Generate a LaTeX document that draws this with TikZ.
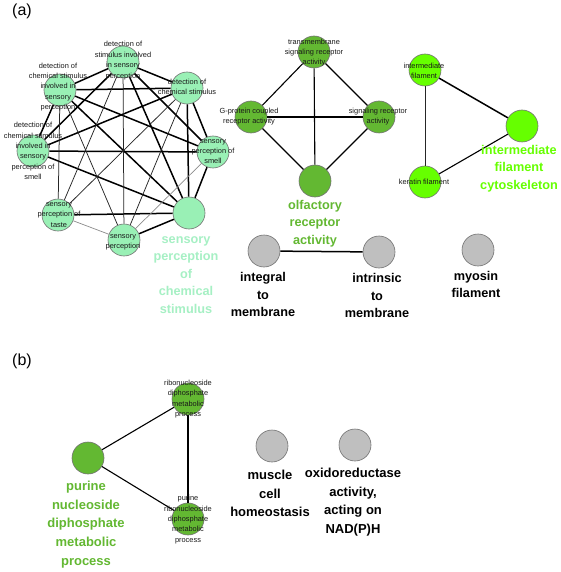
\documentclass[tikz,border=0pt]{standalone}
\usepackage{fontspec}
\setmainfont{Liberation Sans}
\begin{document}
\begin{tikzpicture}[x=1pt,y=-1pt,
  gnode/.style={circle,draw=black!55,line width=0.6pt,minimum size=32pt,inner sep=0pt},
  mintn/.style={gnode,fill=mintfill},
  olfn/.style={gnode,fill=olfgreen},
  brightn/.style={gnode,fill=brightgreen},
  grayn/.style={gnode,fill=grayfill},
  small/.style={align=center,inner sep=0pt,text=black!90,font=\fontsize{7.4}{10.4}\selectfont},
  big/.style={align=center,inner sep=0pt,font=\fontsize{12.7}{17.6}\selectfont\bfseries},
  bigb/.style={align=center,inner sep=0pt,font=\fontsize{13}{18.7}\selectfont\bfseries},
  thick edge/.style={line width=1.5pt,black},
  mid edge/.style={line width=1.1pt,black},
  thin edge/.style={line width=0.75pt,black!85},
  gray edge/.style={line width=0.7pt,black!45},
]
\definecolor{mintfill}{HTML}{99F0B5}
\definecolor{minttext}{HTML}{A6F0C4}
\definecolor{olfgreen}{HTML}{63B832}
\definecolor{brightgreen}{HTML}{66FF00}
\definecolor{grayfill}{HTML}{BFBFBF}
\useasboundingbox[fill=white] (0,0) rectangle (560,572);

% panel labels
\node[font=\fontsize{16}{18}\selectfont,inner sep=0pt] (pa) at (22,11) {(a)};
\node[font=\fontsize{16}{18}\selectfont,inner sep=0pt] (pb) at (22,361) {(b)};

% ---------- heptagon group ----------
\node[mintn] (n1) at (123,62) {};
\node[mintn] (n2) at (60,90) {};
\node[mintn] (n3) at (187,88) {};
\node[mintn] (n4) at (33,151) {};
\node[mintn] (n5) at (213,152) {};
\node[mintn] (n6) at (58,215) {};
\node[mintn] (n7) at (124,240) {};
\node[mintn] (n8) at (189,213) {};

\foreach \a/\b in {n1/n2,n1/n3,n2/n3,n1/n4,n2/n4,n3/n4,n4/n5,n1/n5,n2/n5,n3/n5,
  n1/n8,n2/n8,n3/n8,n4/n8,n5/n8,n6/n8,n7/n8}
  \draw[thick edge] (\a) -- (\b);
\foreach \a/\b in {n1/n7,n2/n6,n2/n7,n1/n6,n3/n6,n3/n7}
  \draw[thin edge] (\a) -- (\b);
\foreach \a/\b in {n6/n7,n5/n7}
  \draw[gray edge] (\a) -- (\b);

\node[small] (l1) at (123,60.5) {detection of\\stimulus involved\\in sensory\\perception};
\node[small] (l2) at (58,87) {detection of\\chemical stimulus\\involved in\\sensory\\perception};
\node[small] (l3) at (187,87) {detection of\\chemical stimulus};
\node[small] (l4) at (33,151) {detection of\\chemical stimulus\\involved in\\sensory\\perception of\\smell};
\node[small] (l5) at (213,151.5) {sensory\\perception of\\smell};
\node[small] (l6) at (59,215) {sensory\\perception of\\taste};
\node[small] (l7) at (123,242) {sensory\\perception};
\node[big,text=minttext] (l8) at (186,275) {sensory\\perception\\of\\chemical\\stimulus};

% ---------- olfactory group ----------
\node[olfn] (t) at (314,52) {};
\node[olfn] (g) at (251,117) {};
\node[olfn] (s) at (379,117) {};
\node[olfn] (o) at (315,181) {};
\foreach \a/\b in {t/g,t/s,t/o,g/o,s/o}
  \draw[mid edge] (\a) -- (\b);
\draw[thick edge] (g) -- (s);
\node[small] (lt) at (314,52.5) {transmembrane\\signaling receptor\\activity};
\node[small] (lg) at (249,116.5) {G-protein coupled\\receptor activity};
\node[small] (ls) at (378,116.5) {signaling receptor\\activity};
\node[big,text=olfgreen] (lo) at (315,223.5) {olfactory\\receptor\\activity};

% ---------- intermediate filament group ----------
\node[brightn] (i) at (425,70) {};
\node[brightn] (k) at (425,182) {};
\node[brightn] (c) at (522,126) {};
\draw[thin edge] (i) -- (k);
\draw[thick edge] (i) -- (c);
\draw[mid edge] (k) -- (c);
\node[small] (li) at (424,71) {intermediate\\filament};
\node[small] (lk) at (424,182) {keratin filament};
\node[big,text=brightgreen] (lc) at (519,168.5) {intermediate\\filament\\cytoskeleton};

% ---------- gray group (a) ----------
\node[grayn] (im) at (264,251) {};
\node[grayn] (in) at (379,252) {};
\node[grayn] (my) at (478,250) {};
\draw[thick edge] (im) -- (in);
\node[big] (lim) at (263,294.5) {integral\\to\\membrane};
\node[big] (lin) at (377,295.5) {intrinsic\\to\\membrane};
\node[big] (lmy) at (476,284.5) {myosin\\filament};

% ---------- panel (b) ----------
\node[olfn] (r) at (188,399) {};
\node[olfn] (p) at (88,458) {};
\node[olfn] (pr) at (188,519) {};
\node[grayn] (m) at (272,446) {};
\node[grayn] (x) at (355,445) {};
\foreach \a/\b in {p/r,p/pr,r/pr}
  \draw[mid edge] (\a) -- (\b);
\node[small] (lr) at (188,399) {ribonucleoside\\diphosphate\\metabolic\\process};
\node[small] (lpr) at (188,519.5) {purine\\ribonucleoside\\diphosphate\\metabolic\\process};
\node[bigb,text=olfgreen] (lp) at (86,524.5) {purine\\nucleoside\\diphosphate\\metabolic\\process};
\node[bigb] (lm) at (270,493.5) {muscle\\cell\\homeostasis};
\node[bigb] (lx) at (353,502) {oxidoreductase\\activity,\\acting on\\NAD(P)H};
\end{tikzpicture}
\end{document}
